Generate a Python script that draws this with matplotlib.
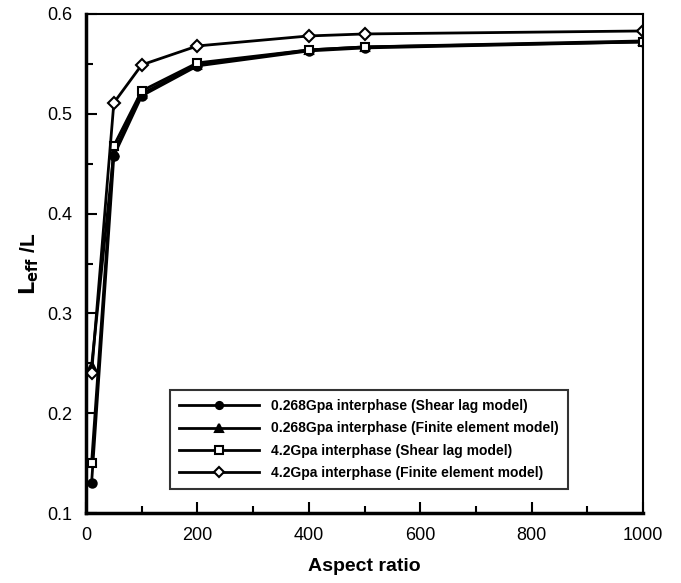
import matplotlib
matplotlib.use("Agg")
import matplotlib.pyplot as plt
from matplotlib.ticker import MultipleLocator

plt.rcParams["font.family"] = ["Liberation Sans", "DejaVu Sans"]

aspect_ratio = [10, 50, 100, 200, 400, 500, 1000]
soft_shear_lag = [0.130, 0.458, 0.518, 0.548, 0.563, 0.566, 0.572]
soft_fem = [0.247, 0.462, 0.520, 0.549, 0.564, 0.567, 0.573]
stiff_shear_lag = [0.150, 0.468, 0.523, 0.551, 0.564, 0.567, 0.572]
stiff_fem = [0.240, 0.511, 0.549, 0.568, 0.578, 0.580, 0.583]

labels = [
    "0.268Gpa interphase (Shear lag model)",
    "0.268Gpa interphase (Finite element model)",
    "4.2Gpa interphase (Shear lag model)",
    "4.2Gpa interphase (Finite element model)",
]

fig = plt.figure(figsize=(6.81, 5.83), dpi=100)
ax = fig.add_axes([0.1263, 0.120, 0.8179, 0.856])

style = dict(color="black", lw=2, markersize=6, markeredgewidth=1.5)
ax.plot(aspect_ratio, soft_shear_lag, marker="o", mfc="black", label=labels[0], **style)
ax.plot(aspect_ratio, soft_fem, marker="^", mfc="black", label=labels[1], **style)
ax.plot(aspect_ratio, stiff_shear_lag, marker="s", mfc="white", label=labels[2], **style)
ax.plot(aspect_ratio, stiff_fem, marker="D", mfc="white", label=labels[3], **style)

ax.set_xlim(0, 1000)
ax.set_ylim(0.1, 0.6)
ax.xaxis.set_major_locator(MultipleLocator(200))
ax.xaxis.set_minor_locator(MultipleLocator(100))
ax.yaxis.set_major_locator(MultipleLocator(0.1))
ax.yaxis.set_minor_locator(MultipleLocator(0.05))
ax.tick_params(which="both", direction="in", top=False, right=False, labelsize=13)
ax.tick_params(which="major", length=8, width=1.5)
ax.tick_params(which="minor", length=5, width=1.5)
ax.tick_params(axis="x", pad=10)
ax.tick_params(axis="y", pad=10)

for side in ("left", "bottom"):
    ax.spines[side].set_linewidth(2.5)
for side in ("top", "right"):
    ax.spines[side].set_linewidth(1.5)

ax.set_xlabel("Aspect ratio", fontsize=14, fontweight="bold", labelpad=10)
ax.set_ylabel(r"$\mathbf{L}_{\mathbf{eff}}$ /L", fontsize=15, fontweight="bold", labelpad=4)

leg = ax.legend(loc="lower right", bbox_to_anchor=(0.865, 0.048), frameon=True,
                fancybox=False, edgecolor="black", prop={"weight": "bold", "size": 10},
                handlelength=5.7, borderpad=0.65, labelspacing=0.6, handletextpad=0.9,
                markerscale=0.85, borderaxespad=0)
leg.get_frame().set_linewidth(1.5)

fig.savefig("out.png", dpi=100)
